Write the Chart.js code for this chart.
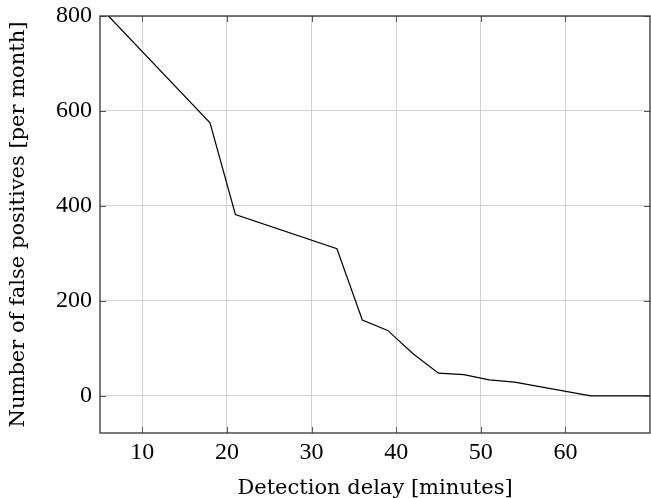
<!DOCTYPE html>
<html>
<head>
<meta charset="utf-8">
<script src="https://cdn.jsdelivr.net/npm/chart.js@4.4.1/dist/chart.umd.min.js"></script>
<style>
  html, body { margin: 0; padding: 0; background: #fff; }
  #wrap { width: 651px; height: 498px; position: relative; }
</style>
</head>
<body>
<div id="wrap"><canvas id="chart"></canvas></div>
<script>
// Data
const delays = [6, 18, 21, 33, 36, 39, 42, 45, 48, 51, 54, 63, 70];
const falsePositives = [800, 575, 382, 310, 160, 138, 89, 48, 45, 34, 29, 0, 0];
const xTicks = [10, 20, 30, 40, 50, 60];
const yTicks = [0, 200, 400, 600, 800];

Chart.defaults.font.family = "'Liberation Serif', 'DejaVu Serif', serif";
Chart.defaults.font.size = 24;
Chart.defaults.color = '#000';

const titleFont = { family: "'DejaVu Serif', serif", size: 21, lineHeight: 1.2 };

// pgfplots style box with inward ticks on all four sides
const boxPlugin = {
    id: 'box',
    afterDatasetsDraw(chart) {
        const { ctx, chartArea: a, scales } = chart;
        ctx.save();
        ctx.strokeStyle = '#555';
        ctx.lineWidth = 1;
        xTicks.forEach(v => {
            const x = Math.round(scales.x.getPixelForValue(v)) + 0.5;
            ctx.beginPath();
            ctx.moveTo(x, a.bottom); ctx.lineTo(x, a.bottom - 6);
            ctx.moveTo(x, a.top); ctx.lineTo(x, a.top + 6);
            ctx.stroke();
        });
        yTicks.forEach(v => {
            const y = Math.round(scales.y.getPixelForValue(v)) + 0.5;
            ctx.beginPath();
            ctx.moveTo(a.left, y); ctx.lineTo(a.left + 6, y);
            ctx.moveTo(a.right, y); ctx.lineTo(a.right - 6, y);
            ctx.stroke();
        });
        ctx.strokeStyle = '#333';
        ctx.lineWidth = 1.3;
        ctx.strokeRect(a.left, a.top, a.right - a.left, a.bottom - a.top);
        ctx.restore();
    }
};

new Chart(document.getElementById('chart'), {
    type: 'line',
    data: {
        datasets: [{
            data: delays.map((d, i) => ({ x: d, y: falsePositives[i] })),
            borderColor: '#000',
            borderWidth: 1.2,
            pointRadius: 0,
            tension: 0,
            fill: false
        }]
    },
    options: {
        responsive: true,
        maintainAspectRatio: false,
        animation: false,
        layout: { padding: { top: 16, right: 1, left: 0, bottom: 0 } },
        plugins: {
            legend: { display: false },
            tooltip: { enabled: false }
        },
        scales: {
            x: {
                type: 'linear',
                min: 5,
                max: 70,
                afterBuildTicks: s => { s.ticks = xTicks.map(v => ({ value: v })); },
                afterFit: s => { s.height = 65; s.paddingLeft = 0; s.paddingRight = 0; },
                grid: { color: '#d2d2d2', drawTicks: false },
                border: { display: false },
                ticks: { padding: 5 },
                title: {
                    display: true,
                    text: 'Detection delay [minutes]',
                    font: titleFont,
                    padding: { top: 0, bottom: -3 }
                }
            },
            y: {
                type: 'linear',
                min: -78,
                max: 800,
                afterBuildTicks: s => { s.ticks = yTicks.map(v => ({ value: v })); },
                afterFit: s => { s.width = 100; s.paddingTop = 0; s.paddingBottom = 0; },
                grid: { color: '#d2d2d2', drawTicks: false },
                border: { display: false },
                ticks: { padding: 8 },
                title: {
                    display: true,
                    text: 'Number of false positives [per month]',
                    font: titleFont,
                    padding: { top: 6, bottom: 0 }
                }
            }
        }
    },
    plugins: [boxPlugin]
});
</script>
</body>
</html>
